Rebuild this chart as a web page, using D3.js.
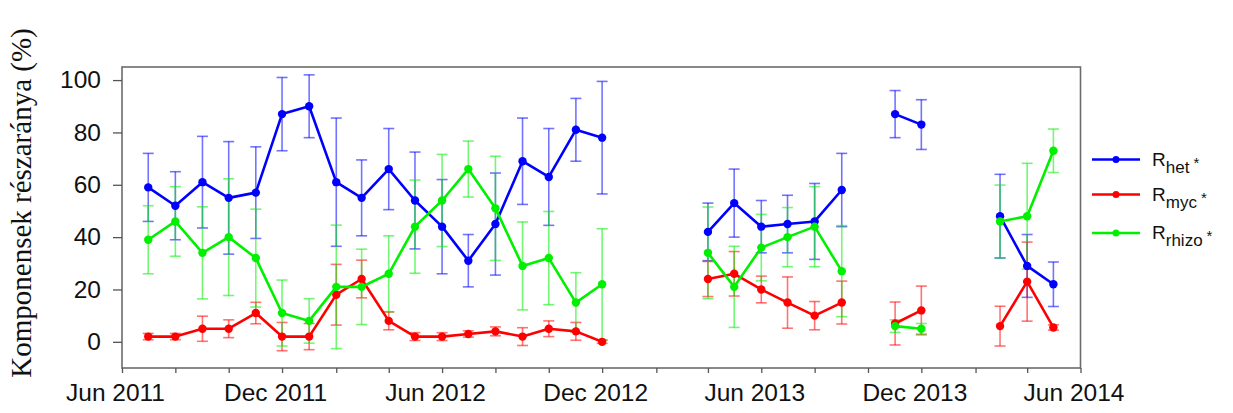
<!DOCTYPE html>
<html>
<head>
<meta charset="utf-8">
<script src="https://cdn.jsdelivr.net/npm/d3@7"></script>
<style>
  html, body { margin: 0; padding: 0; background: #fff; }
  svg { display: block; }
</style>
</head>
<body>
<svg id="chart" width="1233" height="413"></svg>
<script>
// Sampling months (first of month); gaps in the campaign break the lines
const sampleMonths = [
  "2011-07","2011-08","2011-09","2011-10","2011-11","2011-12",
  "2012-01","2012-02","2012-03","2012-04","2012-05","2012-06",
  "2012-07","2012-08","2012-09","2012-10","2012-11","2012-12",
  "2013-04","2013-05","2013-06","2013-07","2013-08","2013-09",
  "2013-11","2013-12",
  "2014-03","2014-04","2014-05"
];

// Heterotrophic share (%) and its error
const hetMean = [59,52,61,55,57,87,90,61,55,66,54,44,31,45,69,63,81,78, 42,53,44,45,46,58, 87,83, 48,29,22];
const hetErr  = [13,13,17.5,21.5,17.5,14,12,24.5,14.5,15.5,18.5,18,10,19.5,16.5,18.5,12,21.5, 11,13,10,11,14.5,14, 9,9.5, 16,12,8.5];

// Mycorrhizal share (%) and its error
const mycMean = [2,2,5,5,11,2,2,18,24,8,2,2,3,4,2,5,4,0, 24,26,20,15,10,15, 7,12, 6,23,5.5];
const mycErr  = [1.2,1.2,4.8,3.4,4.1,5.4,5,11.6,7.2,3.4,1.5,1.5,1.2,1.7,3.4,3,3.4,0.6, 6.7,8.5,5.1,9.8,5.4,8.2, 8.2,9.3, 7.6,15.1,1];

// Rhizomicrobial share (%) and its error
const rhizoMean = [39,46,34,40,32,11,8,21,21,26,44,54,66,51,29,32,15,22, 34,21,36,40,44,27, 6,5, 46,48,73];
const rhizoErr  = [13,13.3,17.6,22.3,18.7,12.6,8.5,23.6,14.4,14.5,17.8,17.6,10.7,19.9,16.8,17.8,11.4,21.2, 17.5,15.5,12.7,11.3,15.3,17.4, 2.4,2, 13.9,20.2,8.3];

const yTicks = [0, 20, 40, 60, 80, 100];
const labeledMonths = ["Jun 2011","Dec 2011","Jun 2012","Dec 2012","Jun 2013","Dec 2013","Jun 2014"];
const yTitle = "Komponensek részaránya (%)";

const series = [
  { key: "het",   label: "het",   color: "#0000ff", mean: hetMean,   err: hetErr },
  { key: "myc",   label: "myc",   color: "#ff0000", mean: mycMean,   err: mycErr },
  { key: "rhizo", label: "rhizo", color: "#00f000", mean: rhizoMean, err: rhizoErr }
];

const parseMonth = d3.timeParse("%Y-%m");
const dates = sampleMonths.map(parseMonth);

const svg = d3.select("#chart");
const plot = { left: 122, right: 1080.5, top: 67, bottom: 368 };

const x = d3.scaleTime()
  .domain([new Date(2011, 5, 1), new Date(2014, 5, 1)])
  .range([plot.left, plot.right]);
const y = d3.scaleLinear()
  .domain([-10, 105])
  .range([plot.bottom, plot.top]);

svg.append("rect").attr("width", 1233).attr("height", 413).attr("fill", "#fff");

// Frame
svg.append("rect")
  .attr("x", plot.left).attr("y", plot.top)
  .attr("width", plot.right - plot.left).attr("height", plot.bottom - plot.top)
  .attr("fill", "none").attr("stroke", "#6b6b6b").attr("stroke-width", 1.6);

const tickFont = "'Liberation Sans', Arial, sans-serif";

// Y axis
const yAxis = svg.append("g")
  .attr("transform", `translate(${plot.left},0)`)
  .call(d3.axisLeft(y).tickValues(yTicks).tickSize(9).tickPadding(12));
yAxis.select(".domain").remove();
yAxis.selectAll(".tick line").attr("stroke", "#555").attr("stroke-width", 1.3);
yAxis.selectAll(".tick text")
  .attr("font-family", tickFont)
  .attr("font-size", 24.5).attr("fill", "#111");

// X axis: a tick every two months, labels on June and December
const fmt = d3.timeFormat("%b %Y");
const monthTicks = d3.timeMonth.range(new Date(2011, 5, 1), new Date(2014, 6, 1), 2);
const xAxis = svg.append("g")
  .attr("transform", `translate(0,${plot.bottom})`)
  .call(d3.axisBottom(x).tickValues(monthTicks).tickSize(5).tickPadding(11)
    .tickFormat(d => labeledMonths.includes(fmt(d)) ? fmt(d) : ""));
xAxis.select(".domain").remove();
xAxis.selectAll(".tick line").attr("stroke", "#555").attr("stroke-width", 1.3);
xAxis.selectAll(".tick text")
  .attr("font-family", tickFont)
  .attr("font-size", 24.5).attr("fill", "#111").attr("dx", -7);

// Y title
svg.append("text")
  .attr("transform", `translate(31,203) rotate(-90)`)
  .attr("text-anchor", "middle")
  .attr("font-family", "'Liberation Serif', 'Times New Roman', serif")
  .attr("font-size", 29).attr("fill", "#111")
  .text(yTitle);

// Split the sampled months into consecutive runs
function runs(values) {
  const out = [];
  let cur = [];
  dates.forEach((d, i) => {
    if (i > 0 && d3.timeMonth.count(dates[i - 1], d) > 1) { out.push(cur); cur = []; }
    cur.push({ date: d, v: values[i] });
  });
  out.push(cur);
  return out;
}

const line = d3.line().x(d => x(d.date)).y(d => y(d.v));
const capHalf = 5.5;

// Error bars
series.forEach(s => {
  const g = svg.append("g").attr("stroke", s.color).attr("stroke-opacity", 0.55).attr("stroke-width", 1.6);
  dates.forEach((d, i) => {
    const cx = x(d), hi = y(s.mean[i] + s.err[i]), lo = y(s.mean[i] - s.err[i]);
    g.append("line").attr("x1", cx).attr("x2", cx).attr("y1", hi).attr("y2", lo);
    g.append("line").attr("x1", cx - capHalf).attr("x2", cx + capHalf).attr("y1", hi).attr("y2", hi);
    g.append("line").attr("x1", cx - capHalf).attr("x2", cx + capHalf).attr("y1", lo).attr("y2", lo);
  });
});

// Lines and markers
series.forEach(s => {
  runs(s.mean).forEach(r => {
    svg.append("path").datum(r)
      .attr("d", line).attr("fill", "none")
      .attr("stroke", s.color).attr("stroke-width", 2.6).attr("stroke-linejoin", "round");
  });
  svg.append("g").selectAll("circle")
    .data(dates.map((d, i) => ({ date: d, v: s.mean[i] })))
    .join("circle")
    .attr("cx", d => x(d.date)).attr("cy", d => y(d.v))
    .attr("r", 4.2).attr("fill", s.color);
});

// Legend
const legendY = [159.5, 194.5, 233];
series.forEach((s, i) => {
  const ly = legendY[i];
  svg.append("line").attr("x1", 1092).attr("x2", 1140).attr("y1", ly).attr("y2", ly)
    .attr("stroke", s.color).attr("stroke-width", 2.6);
  svg.append("circle").attr("cx", 1116).attr("cy", ly).attr("r", 3.5).attr("fill", s.color);
  const t = svg.append("text")
    .attr("x", 1152).attr("y", ly + 6)
    .attr("font-family", tickFont)
    .attr("fill", "#111");
  t.append("tspan").attr("font-size", 19).text("R");
  t.append("tspan").attr("font-size", 17).attr("dy", 7).text(s.label);
  t.append("tspan").attr("font-size", 15).attr("dy", -5).attr("dx", 4).text("*");
});
</script>
</body>
</html>
